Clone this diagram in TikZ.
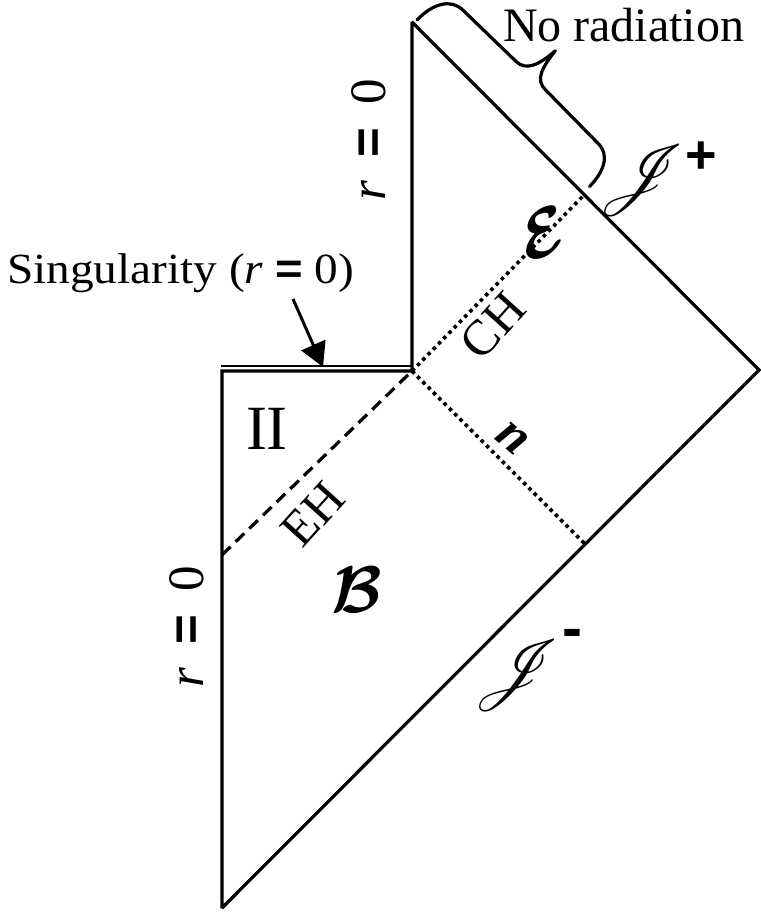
\documentclass[tikz,border=0pt]{standalone}
\usepackage{amsmath}
\usepackage{bm}
\usepackage{mathrsfs}
\usepackage{graphicx}
\usepackage{fontspec}
\setmainfont{Liberation Serif}
\newfontfamily\sansfont{Liberation Sans}
\usetikzlibrary{arrows.meta}
\newcommand{\bsans}[1]{{\sansfont\bfseries #1}}
\begin{document}
\begin{tikzpicture}[x=1pt,y=-1pt,
  edge/.style={line width=3.2pt, miter limit=2},
  thinedge/.style={line width=2.6pt},
  ehline/.style={line width=3.2pt, dash pattern=on 12pt off 7pt},
  dotline/.style={line width=3.6pt, dash pattern=on 3.6pt off 3.9pt},
  bracestyle/.style={line width=3.2pt, line cap=round, line join=round},
  pointer/.style={line width=3pt, -{Triangle[length=24pt,width=26pt]}},
  lbl/.style={inner sep=0pt, outer sep=0pt}]
\useasboundingbox (0,0) rectangle (760,915);
% corners of the diagram
\coordinate (B) at (222,908);
\coordinate (SL) at (222,371);
\coordinate (SR) at (412,371);
\coordinate (T) at (412,22);
\coordinate (R) at (759,370);
\coordinate (SLt) at (221,365.8);
\coordinate (SRt) at (412,365.8);
\coordinate (EHl) at (222,555);
\coordinate (CHe) at (585,194);
\coordinate (Ne) at (585,544);
\coordinate (arrS) at (293,299);
\coordinate (arrE) at (323,367);
% outline
\draw[edge] (B) -- (SL) -- (SR) -- (T) -- (R) -- cycle;
\draw[thinedge] (SLt) -- (SRt);
% horizons
\draw[ehline] (EHl) -- (SR);
\draw[dotline] (SR) -- (CHe);
\draw[dotline] (SR) -- (Ne);
% brace
\begin{scope}[shift={(417,20)}, x={(0.719pt,-0.694pt)}, y={(0.694pt,0.719pt)}]
\draw[bracestyle] (0,0) .. controls (0,24) and (10,39) .. (26,39)
  -- (100,39) .. controls (114,39) and (119,52) .. (121,74)
  .. controls (123,52) and (127,39) .. (141,39)
  -- (216,37) .. controls (232,37) and (240,22) .. (240,0);
\end{scope}
% pointer
\draw[pointer] (arrS) -- (arrE);
% labels
\node[lbl, font=\fontsize{48}{50}\selectfont, anchor=base west] (norad) at (503,42) {No radiation};
\node[lbl, font=\fontsize{43}{45}\selectfont, anchor=base west] (sing) at (7,283) {\scalebox{1.1}[1]{Singularity (\textit{r} \bsans{=} 0)}};
\node[lbl, font=\fontsize{63}{65}\selectfont, anchor=base west] (II) at (246,449) {II};
\node[lbl, font=\fontsize{50}{52}\selectfont, rotate=48] (EH) at (313,514) {EH};
\node[lbl, font=\fontsize{50}{52}\selectfont, rotate=48] (CH) at (493,326) {CH};
\node[lbl, rotate=15] (Ecal) at (543,233) {\scalebox{6.8}{$\boldsymbol{\mathcal{E}}$}};
\node[lbl, rotate=-40, font=\fontsize{52}{54}\selectfont\bfseries\itshape] (ncal) at (512,438) {n};
\node[lbl] (Bcal) at (357,590) {\scalebox{6.6}{$\boldsymbol{\mathcal{B}}$}};
\node[lbl] (Jp) at (642,180) {\scalebox{7.2}{$\bm{\mathscr{J}}$}};
\node[lbl, font=\sansfont\bfseries\fontsize{54}{56}\selectfont] (plus) at (701,158) {+};
\node[lbl] (Jm) at (517,675) {\scalebox{7.2}{$\bm{\mathscr{J}}$}};
\node[lbl, font=\sansfont\bfseries\fontsize{60}{62}\selectfont] (minus) at (572,639) {-};
\node[lbl, rotate=90, anchor=base, font=\fontsize{51}{53}\selectfont] (r0a) at (385,140) {\textit{r}\hspace{0.45em}\bsans{=}\hspace{0.45em}0};
\node[lbl, rotate=90, anchor=base, font=\fontsize{51}{53}\selectfont] (r0b) at (203,627) {\textit{r}\hspace{0.45em}\bsans{=}\hspace{0.45em}0};
\end{tikzpicture}
\end{document}
